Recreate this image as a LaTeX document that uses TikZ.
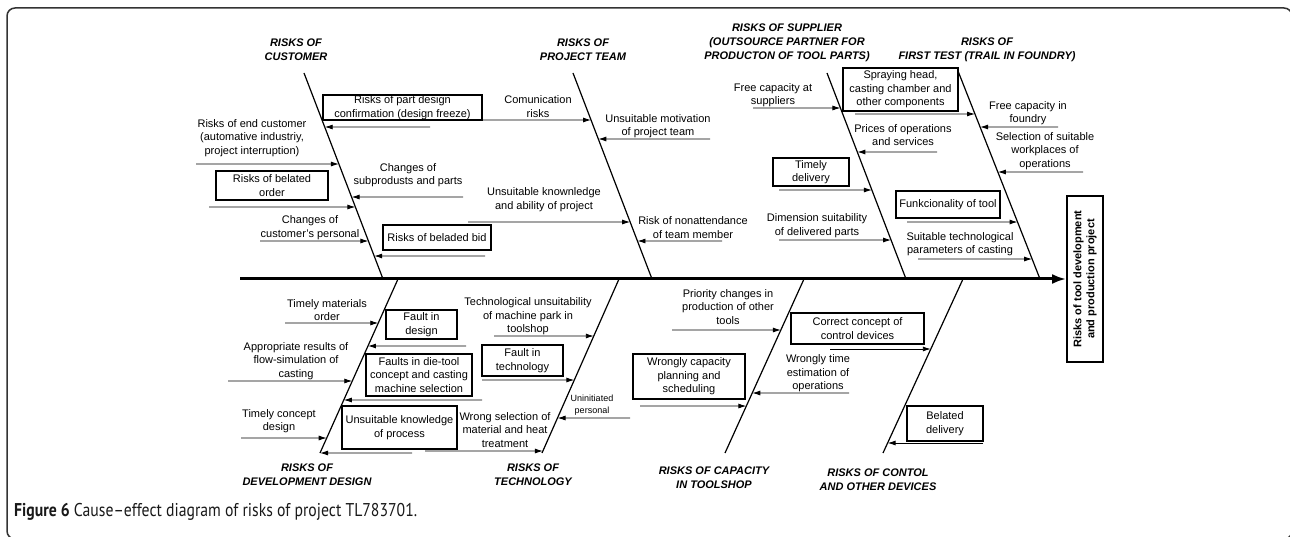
\documentclass[tikz,border=0pt]{standalone}
\usepackage{fontspec}
\setmainfont{Liberation Sans}
\newfontfamily\capfont[Ligatures=TeX, FakeStretch=0.85]{PT Sans}
\usetikzlibrary{arrows.meta}

\tikzset{
  bone/.style={line width=1.2pt},
  spine/.style={line width=3pt, -{Latex[length=14pt,width=10pt]}},
  cause/.style={line width=0.9pt, -{Latex[length=8pt,width=5pt]}},
  box/.style={draw, line width=1.8pt, inner sep=0pt},
  head/.style={font=\fontsize{11}{14}\selectfont\bfseries\itshape},
  smalltxt/.style={font=\fontsize{9}{12}\selectfont},
}

\begin{document}
\begin{tikzpicture}[x=1pt, y=-1pt, every node/.style={font=\fontsize{11}{13.5}\selectfont, align=center, inner sep=0pt}]
  \useasboundingbox (0,0) rectangle (1290,537);
  % Frame
  \draw[rounded corners=8pt, line width=1.5pt, black!80] (7,8) rectangle (1292,539);

  % Effect and spine
  \node (effect) [draw, line width=1.8pt, rotate=90, minimum width=166pt, minimum height=36pt, font=\fontsize{11}{13}\selectfont\bfseries] at (1085,279) {Risks of tool development\\and production project};
  \coordinate (tail) at (240,279);
  \draw[spine] (tail) -- (effect.north);

  % Bones
  \coordinate (c1t) at (304,73);  \coordinate (c1b) at (383,279);
  \coordinate (c2t) at (573,73);  \coordinate (c2b) at (652,279);
  \coordinate (c3t) at (827,73);  \coordinate (c3b) at (906,279);
  \coordinate (c4t) at (958,71);  \coordinate (c4b) at (1040,279);
  \coordinate (c5t) at (398,279); \coordinate (c5b) at (320,453);
  \coordinate (c6t) at (619,279); \coordinate (c6b) at (542,453);
  \coordinate (c7t) at (804,279); \coordinate (c7b) at (725,453);
  \coordinate (c8t) at (963,279); \coordinate (c8b) at (883,453);
  \draw[bone] (c1t) -- (c1b);
  \draw[bone] (c2t) -- (c2b);
  \draw[bone] (c3t) -- (c3b);
  \draw[bone] (c4t) -- (c4b);
  \draw[bone] (c5t) -- (c5b);
  \draw[bone] (c6t) -- (c6b);
  \draw[bone] (c7t) -- (c7b);
  \draw[bone] (c8t) -- (c8b);

  % Headings
  \node (hcust) [head] at (296,50) {RISKS OF\\CUSTOMER};
  \node (hteam) [head] at (583,50) {RISKS OF\\PROJECT TEAM};
  \node (hsupp) [head] at (787,43) {RISKS OF SUPPLIER\\(OUTSOURCE PARTNER FOR\\PRODUCTON OF TOOL PARTS)};
  \node (htest) [head] at (987,50) {RISKS OF\\FIRST TEST (TRAIL IN FOUNDRY)};
  \node (hdev) [head] at (307,475) {RISKS OF\\DEVELOPMENT DESIGN};
  \node (htech) [head] at (533,475) {RISKS OF\\TECHNOLOGY};
  \node (hcap) [head] at (714,478) {RISKS OF CAPACITY\\IN TOOLSHOP};
  \node (hctrl) [head] at (878,480) {RISKS OF CONTOL\\AND OTHER DEVICES};

  % Customer
  \node (endcust) at (252,138) {Risks of end customer\\(automative industriy,\\project interruption)};
  \node (freeze) [box, minimum width=159pt, minimum height=25pt] at (402.5,107.5) {Risks of part design\\confirmation (design freeze)};
  \node (order) [box, minimum width=112pt, minimum height=29pt] at (272,185.5) {Risks of belated\\order};
  \node (subpr) at (408,175) {Changes of\\subprodusts and parts};
  \node (custpers) at (310,227.5) {Changes of\\customer's personal};
  \node (bid) [box, minimum width=108pt, minimum height=25pt] at (437,237.5) {Risks of beladed bid};
  \draw[cause] (196,164) -- (intersection of c1t--c1b and 0,164--1,164);
  \draw[cause] (430,127) -- (intersection of c1t--c1b and 0,127--1,127);
  \draw[cause] (209,207) -- (intersection of c1t--c1b and 0,207--1,207);
  \draw[cause] (463,197) -- (intersection of c1t--c1b and 0,197--1,197);
  \draw[cause] (260,241) -- (intersection of c1t--c1b and 0,241--1,241);
  \draw[cause] (485,256) -- (intersection of c1t--c1b and 0,256--1,256);

  % Project team
  \node (comm) at (538,106.5) {Comunication\\risks};
  \node (motiv) at (658,126) {Unsuitable motivation\\of project team};
  \node (knowl) at (544,199.5) {Unsuitable knownledge\\and ability of project};
  \node (nonatt) at (693,227.5) {Risk of nonattendance\\of team member};
  \draw[cause] (482,120) -- (intersection of c2t--c2b and 0,120--1,120);
  \draw[cause] (710,139) -- (intersection of c2t--c2b and 0,139--1,139);
  \draw[cause] (468,222) -- (intersection of c2t--c2b and 0,222--1,222);
  \draw[cause] (722,241) -- (intersection of c2t--c2b and 0,241--1,241);

  % Supplier
  \node (freesup) at (773,95) {Free capacity at\\suppliers};
  \node (prices) at (903,135) {Prices of operations\\and services};
  \node (timely) [box, minimum width=76pt, minimum height=28pt] at (811,172) {Timely\\delivery};
  \node (dimen) at (817,225.5) {Dimension suitability\\of delivered parts};
  \draw[cause] (753,108) -- (intersection of c3t--c3b and 0,108--1,108);
  \draw[cause] (937,152) -- (intersection of c3t--c3b and 0,152--1,152);
  \draw[cause] (779,190) -- (intersection of c3t--c3b and 0,190--1,190);
  \draw[cause] (779,240) -- (intersection of c3t--c3b and 0,240--1,240);

  % First test
  \node (spray) [box, minimum width=115pt, minimum height=43pt] at (900.5,89.5) {Spraying head,\\casting chamber and\\other components};
  \node (freefd) at (1028,113) {Free capacity in\\foundry};
  \node (select) at (1045,151) {Selection of suitable\\workplaces of\\operations};
  \node (funk) [box, minimum width=104pt, minimum height=27pt] at (948,204.5) {Funkcionality of tool};
  \node (param) at (960,244) {Suitable technological\\parameters of casting};
  \draw[cause] (855,114) -- (intersection of c4t--c4b and 0,114--1,114);
  \draw[cause] (1058,127) -- (intersection of c4t--c4b and 0,127--1,127);
  \draw[cause] (1083,172) -- (intersection of c4t--c4b and 0,172--1,172);
  \draw[cause] (907,222) -- (intersection of c4t--c4b and 0,222--1,222);
  \draw[cause] (918,259) -- (intersection of c4t--c4b and 0,259--1,259);

  % Development design
  \node (matord) at (327,310) {Timely materials\\order};
  \node (fdesign) [box, minimum width=71pt, minimum height=29pt] at (421.5,324.5) {Fault in\\design};
  \node (flowsim) at (296,361) {Appropriate results of\\flow-simulation of\\casting};
  \node (dietool) [box, minimum width=106pt, minimum height=42pt] at (419,375) {Faults in die-tool\\concept and casting\\machine selection};
  \node (concept) at (279,421) {Timely concept\\design};
  \node (process) [box, minimum width=115pt, minimum height=43pt] at (399.5,427.5) {Unsuitable knowledge\\of process};
  \draw[cause] (285,323) -- (intersection of c5t--c5b and 0,323--1,323);
  \draw[cause] (466,346) -- (intersection of c5t--c5b and 0,346--1,346);
  \draw[cause] (228,381) -- (intersection of c5t--c5b and 0,381--1,381);
  \draw[cause] (482,400) -- (intersection of c5t--c5b and 0,400--1,400);
  \draw[cause] (241,438) -- (intersection of c5t--c5b and 0,438--1,438);
  \draw[cause] (412,453) -- (intersection of c5t--c5b and 0,453--1,453);

  % Technology
  \node (machpark) at (528,316.5) {Technological unsuitability\\of machine park in\\toolshop};
  \node (ftech) [box, minimum width=81pt, minimum height=31pt] at (522.5,360.5) {Fault in\\technology};
  \node (uninit) [smalltxt] at (592,405) {Uninitiated\\personal};
  \node (heat) at (505,430) {Wrong selection of\\material and heat\\treatment};
  \draw[cause] (494,336) -- (intersection of c6t--c6b and 0,336--1,336);
  \draw[cause] (482,380) -- (intersection of c6t--c6b and 0,380--1,380);
  \draw[cause] (630,418) -- (intersection of c6t--c6b and 0,418--1,418);
  \draw[cause] (425,451) -- (intersection of c6t--c6b and 0,451--1,451);

  % Capacity in toolshop
  \node (prior) at (728,307) {Priority changes in\\production of other\\tools};
  \node (timeest) at (818,373.5) {Wrongly time\\estimation of\\operations};
  \node (plan) [box, minimum width=112pt, minimum height=45pt] at (689,376.5) {Wrongly capacity\\planning and\\scheduling};
  \draw[cause] (672,330) -- (intersection of c7t--c7b and 0,330--1,330);
  \draw[cause] (849,393) -- (intersection of c7t--c7b and 0,393--1,393);
  \draw[cause] (640,406) -- (intersection of c7t--c7b and 0,406--1,406);

  % Control and other devices
  \node (ctrldev) [box, minimum width=133pt, minimum height=31pt] at (857.5,328.5) {Correct concept of\\control devices};
  \node (beldel) [box, minimum width=76pt, minimum height=35pt] at (945,423.5) {Belated\\delivery};
  \draw[cause] (830,349) -- (intersection of c8t--c8b and 0,349--1,349);
  \draw[cause] (983,443) -- (intersection of c8t--c8b and 0,443--1,443);

  % Caption
  \node (caption) [anchor=west, font=\capfont\fontsize{18.5}{22}\selectfont, text=black!90] at (14,512) {\textbf{Figure 6} Cause–effect diagram of risks of project TL783701.};
\end{tikzpicture}
\end{document}
